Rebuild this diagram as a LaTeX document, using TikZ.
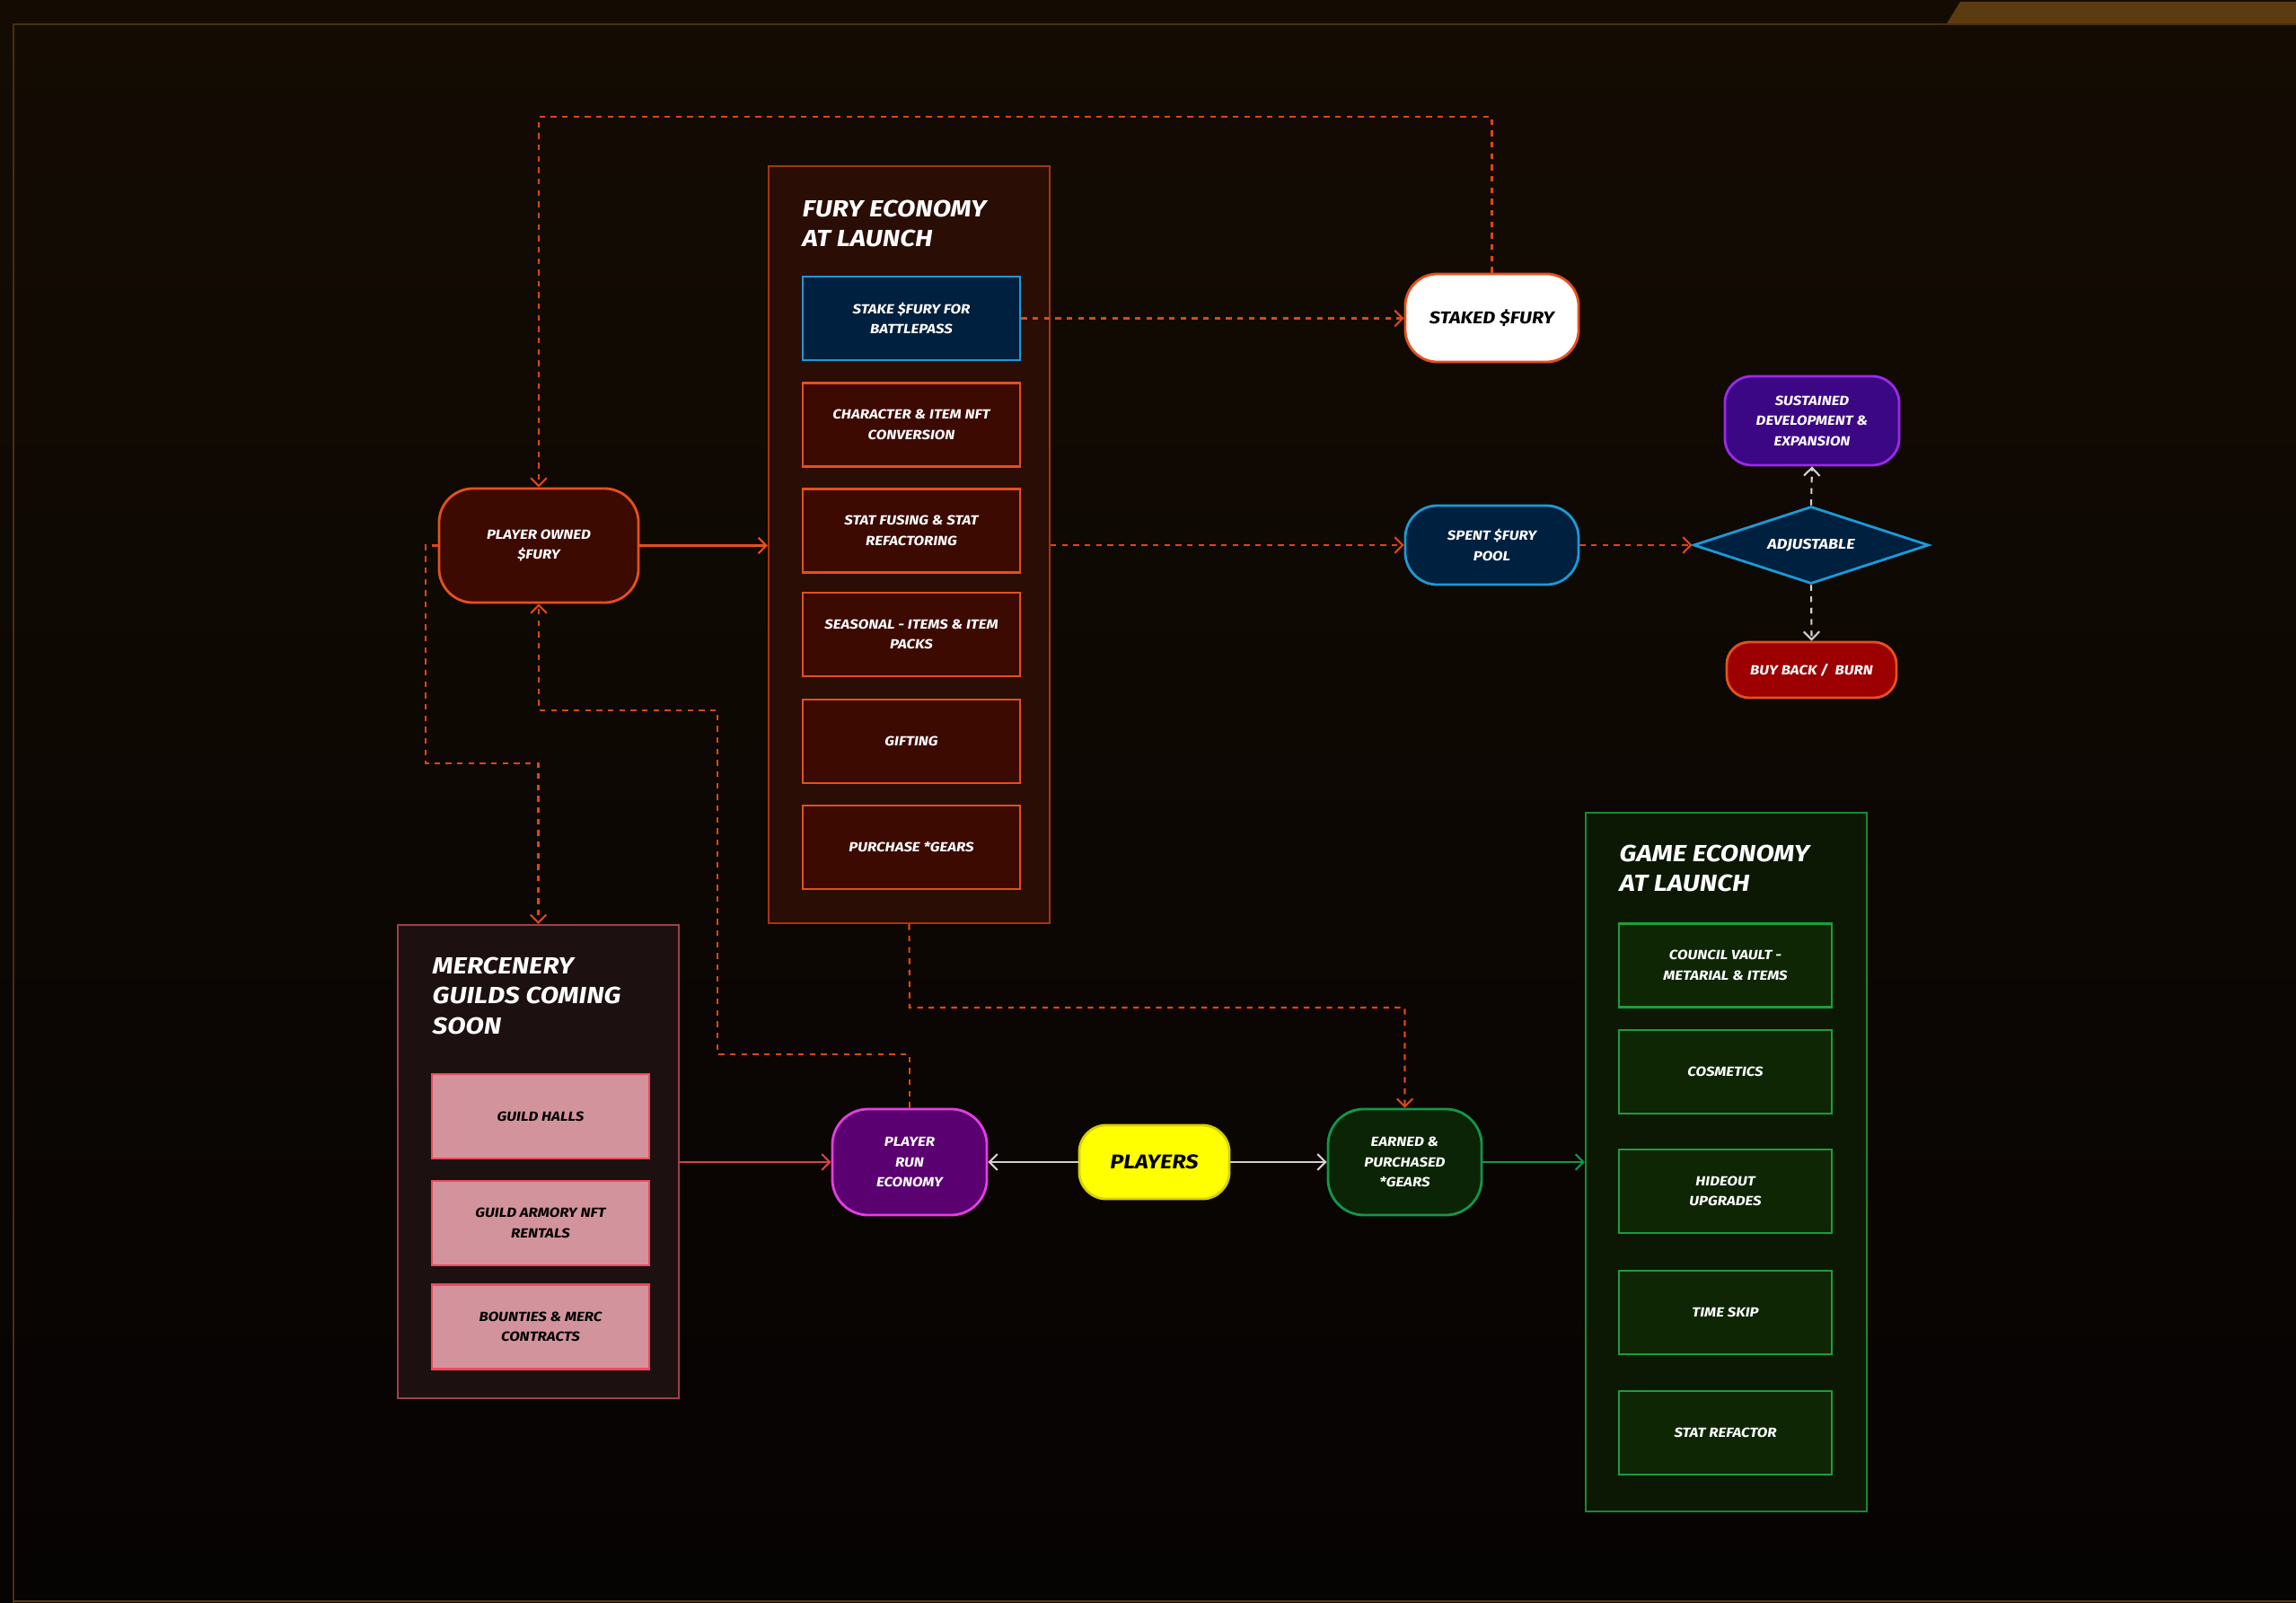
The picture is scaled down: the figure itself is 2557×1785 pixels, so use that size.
\documentclass[tikz,border=0pt]{standalone}
\usepackage{fontspec}
\setmainfont{Fira Sans}[FakeStretch=1.14]
\usetikzlibrary{arrows.meta,shapes.geometric,calc}
\definecolor{bgTop}{HTML}{140C03}
\definecolor{bgBot}{HTML}{060303}
\definecolor{frameC}{HTML}{5C3B10}
\definecolor{furyF}{HTML}{2A0D05}
\definecolor{furyB}{HTML}{A8340F}
\definecolor{redF}{HTML}{3D0A02}
\definecolor{redB}{HTML}{E5501C}
\definecolor{blueF}{HTML}{00203F}
\definecolor{blueB}{HTML}{1B9AD6}
\definecolor{orangeL}{HTML}{E0441A}
\definecolor{mercF}{HTML}{1D1011}
\definecolor{mercB}{HTML}{A0404A}
\definecolor{pinkF}{HTML}{D3939D}
\definecolor{pinkB}{HTML}{EE4A5A}
\definecolor{gameF}{HTML}{0C1804}
\definecolor{gameB}{HTML}{178A30}
\definecolor{greenF}{HTML}{0E2604}
\definecolor{greenB}{HTML}{1B9E3A}
\definecolor{purpF}{HTML}{3C0785}
\definecolor{purpB}{HTML}{9A2BE8}
\definecolor{runF}{HTML}{5B0070}
\definecolor{runB}{HTML}{E23FE0}
\definecolor{earnF}{HTML}{0C2406}
\definecolor{earnB}{HTML}{12964A}
\definecolor{yelF}{HTML}{FFFF00}
\definecolor{yelB}{HTML}{D8D000}
\definecolor{buyF}{HTML}{9C0000}
\definecolor{whiteL}{HTML}{D0D0D0}
\definecolor{mercL}{HTML}{D9404A}
\newcommand\bxfont{\fontsize{4.2}{6.4}\selectfont\bfseries\itshape}
\newcommand\ttlfont{\fontsize{7.4}{9.6}\selectfont\bfseries\itshape}
\begin{document}
\begin{tikzpicture}[x=0.01cm,y=-0.01cm,
  cont/.style={draw, line width=0.55pt, inner sep=0pt},
  ttl/.style={anchor=north west, inner sep=0pt, align=left, text=white, font=\ttlfont},
  bx/.style={draw, line width=0.8pt, inner sep=0pt, align=center, text=white, font=\bxfont, minimum width=2.42cm, minimum height=0.93cm},
  redbox/.style={bx, draw=redB, fill=redF},
  pinkbox/.style={bx, draw=pinkB, fill=pinkF, text=black, minimum height=0.94cm},
  greenbox/.style={bx, draw=greenB, fill=greenF, minimum width=2.37cm},
  pill/.style={draw, line width=0.8pt, inner sep=0pt, align=center, text=white, font=\bxfont},
  arr/.style={-{Straight Barb[length=2.5pt,width=5pt]}, line width=0.6pt},
  darr/.style={arr, draw=orangeL, dash pattern=on 1.8pt off 1.8pt},
  wdarr/.style={arr, draw=whiteL, dash pattern=on 1.8pt off 1.8pt}
]
\useasboundingbox (0,0) rectangle (2557,1785);
% background
\shade[top color=bgTop, bottom color=bgBot] (0,0) rectangle (2557,1785);
% frame
\fill[frameC] (2167,28) -- (2183,2) -- (2557,2) -- (2557,28) -- cycle;
\draw[frameC!80!black, line width=0.8pt] (15,1785) -- (15,27) -- (2557,27);
\draw[frameC, line width=0.6pt] (15,1783) -- (2557,1783);

% Fury economy container
\node[cont, draw=furyB, fill=furyF, minimum width=3.13cm, minimum height=8.43cm] (fury) at (1012.5,606.5) {};
\node[ttl] (furyt) at (893,222) {FURY ECONOMY\\AT LAUNCH};
\node[bx, draw=blueB, fill=blueF] (stake) at (1015,354.5) {STAKE \$FURY FOR\\BATTLEPASS};
\node[redbox] (charnft) at (1015,473) {CHARACTER \& ITEM NFT\\CONVERSION};
\node[redbox] (statfuse) at (1015,591) {STAT FUSING \& STAT\\REFACTORING};
\node[redbox] (seasonal) at (1015,706.5) {SEASONAL - ITEMS \& ITEM\\PACKS};
\node[redbox] (gifting) at (1015,825.5) {GIFTING};
\node[redbox] (purchase) at (1015,943.5) {PURCHASE *GEARS};

% Mercenery container
\node[cont, draw=mercB, fill=mercF, minimum width=3.13cm, minimum height=5.27cm] (merc) at (599.5,1293.5) {};
\node[ttl] (merct) at (481,1065) {MERCENERY\\GUILDS COMING\\SOON};
\node[pinkbox] (halls) at (602,1243) {GUILD HALLS};
\node[pinkbox] (armory) at (602,1362) {GUILD ARMORY NFT\\RENTALS};
\node[pinkbox] (bounty) at (602,1477.5) {BOUNTIES \& MERC\\CONTRACTS};

% Game economy container
\node[cont, draw=gameB, fill=gameF, minimum width=3.13cm, minimum height=7.78cm] (game) at (1922.5,1294) {};
\node[ttl] (gamet) at (1803,940) {GAME ECONOMY\\AT LAUNCH};
\node[greenbox] (vault) at (1921.5,1075) {COUNCIL VAULT -\\METARIAL \& ITEMS};
\node[greenbox] (cosm) at (1921.5,1193.5) {COSMETICS};
\node[greenbox] (hide) at (1921.5,1326.5) {HIDEOUT\\UPGRADES};
\node[greenbox] (skip) at (1921.5,1461.5) {TIME SKIP};
\node[greenbox] (refac) at (1921.5,1595.5) {STAT REFACTOR};

% pills
\node[pill, draw=redB, fill=redF, minimum width=2.22cm, minimum height=1.27cm, rounded corners=0.38cm] (powned) at (600,607.5) {PLAYER OWNED\\\$FURY};
\node[pill, draw=redB, fill=white, text=black, minimum width=1.93cm, minimum height=0.98cm, rounded corners=0.36cm, font=\fontsize{5.4}{7}\selectfont\bfseries\itshape] (staked) at (1661.5,354) {STAKED \$FURY};
\node[pill, draw=blueB, fill=blueF, minimum width=1.93cm, minimum height=0.88cm, rounded corners=0.36cm] (spent) at (1661.5,607) {SPENT \$FURY\\POOL};
\node[diamond, aspect=3, draw=blueB, fill=blueF, line width=0.8pt, inner sep=0pt, minimum width=2.62cm, minimum height=0.86cm, text=white, font=\fontsize{4.5}{6.4}\selectfont\bfseries\itshape] (adj) at (2017,607) {ADJUSTABLE};
\node[pill, draw=purpB, fill=purpF, minimum width=1.94cm, minimum height=0.99cm, rounded corners=0.3cm] (sust) at (2018,468.5) {SUSTAINED\\DEVELOPMENT \&\\EXPANSION};
\node[pill, draw=redB, fill=buyF, minimum width=1.89cm, minimum height=0.62cm, rounded corners=0.25cm] (buy) at (2017.5,746) {BUY BACK /\ \ BURN};
\node[pill, draw=runB, fill=runF, minimum width=1.72cm, minimum height=1.18cm, rounded corners=0.4cm] (prun) at (1013,1294) {PLAYER\\RUN\\ECONOMY};
\node[pill, draw=yelB, fill=yelF, text=black, minimum width=1.67cm, minimum height=0.82cm, rounded corners=0.3cm, font=\fontsize{6.3}{8}\selectfont\bfseries\itshape] (players) at (1285.5,1294) {PLAYERS};
\node[pill, draw=earnB, fill=earnF, minimum width=1.71cm, minimum height=1.18cm, rounded corners=0.4cm] (earned) at (1564.5,1294) {EARNED \&\\PURCHASED\\*GEARS};

% connectors
\draw[darr] (staked.north) -- (staked.north |- 0,130) -| (powned.north);
\draw[darr] (stake.east) -- (stake.east -| staked.west);
\draw[arr, draw=redB] (powned.east) -- (powned.east -| fury.west);
\draw[darr] (spent.west -| fury.east) -- (spent.west);
\draw[darr] (spent.east) -- (adj.west);
\draw[wdarr] (adj.north) -- (sust.south);
\draw[wdarr] (adj.south) -- (buy.north);
\draw[darr] (powned.west) -- (474,607.5) -- (474,850) -| (merc.north);
\draw[darr] (prun.north) -- (1013,1174) -- (799,1174) -- (799,791) -| (powned.south);
\draw[darr] (fury.south) -- (1013,1122) -| (earned.north);
\draw[arr, draw=mercL] (merc.east |- prun.west) -- (prun.west);
\draw[arr, draw=whiteL] (players.west) -- (prun.east);
\draw[arr, draw=whiteL] (players.east) -- (earned.west);
\draw[arr, draw=earnB] (earned.east) -- (earned.east -| game.west);
\end{tikzpicture}
\end{document}
